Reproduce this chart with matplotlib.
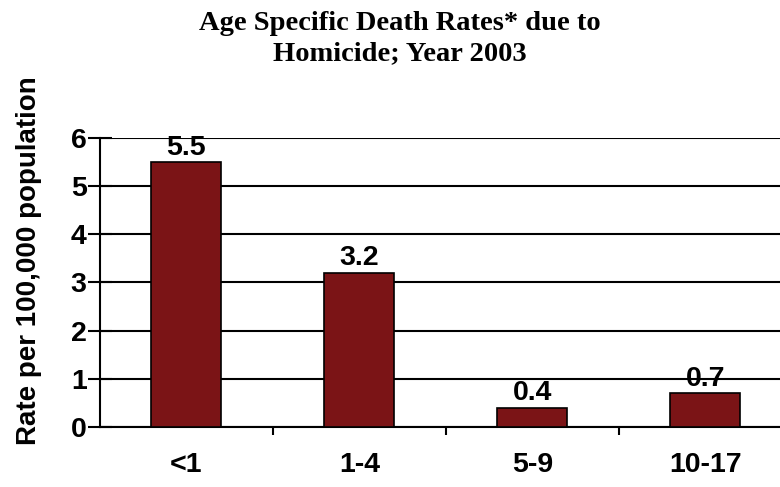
import matplotlib
matplotlib.use("Agg")
import matplotlib.pyplot as plt
from matplotlib.ticker import FixedLocator

# data
age_groups = ["<1", "1-4", "5-9", "10-17"]
rates = [5.5, 3.2, 0.4, 0.7]
title = "Age Specific Death Rates* due to\nHomicide; Year 2003"
ylabel = "Rate per 100,000 population"

fig = plt.figure(figsize=(7.8, 4.87), dpi=100)
# axes runs past the right edge, as in the original cropped slide
ax = fig.add_axes([0.128, 0.123, 0.887, 0.594])

x = range(len(age_groups))
bars = ax.bar(x, rates, width=0.405, color="#7B1416", edgecolor="black",
              linewidth=1.2, zorder=3)

ax.set_xlim(-0.5, len(age_groups) - 0.5)
ax.set_ylim(0, 6)
ax.set_yticks(range(0, 7))
ax.yaxis.grid(True, color="black", linewidth=1.5, zorder=0)
ax.set_axisbelow(True)

for s in ["top", "right"]:
    ax.spines[s].set_visible(False)
ax.spines["left"].set_linewidth(1.5)
ax.spines["bottom"].set_linewidth(1.5)

# category labels at centres, tick marks between categories
ax.set_xticks(list(x))
ax.set_xticklabels(age_groups, fontfamily="Liberation Sans", fontweight="bold",
                   fontsize=20.5)
ax.tick_params(axis="x", which="major", length=0, pad=18)
ax.xaxis.set_minor_locator(FixedLocator([0.5, 1.5, 2.5]))
ax.tick_params(axis="x", which="minor", length=6, width=1.5, direction="out")

ax.tick_params(axis="y", length=17, width=1.5, direction="inout", pad=1)
for lab in ax.get_yticklabels():
    lab.set_fontfamily("Liberation Sans")
    lab.set_fontweight("bold")
    lab.set_fontsize(20.5)

ax.set_ylabel(ylabel, fontfamily="Liberation Sans", fontweight="bold",
              fontsize=20, va="center")
ax.yaxis.set_label_coords(-0.102, 0.575)

for b, v in zip(bars, rates):
    ax.annotate(f"{v}", (b.get_x() + b.get_width() / 2, v),
                xytext=(0, 1), textcoords="offset points",
                ha="center", va="bottom", fontfamily="Liberation Sans",
                fontweight="bold", fontsize=20.5, zorder=4)

fig.text(0.513, 0.978, title, ha="center", va="top",
         fontfamily="Liberation Serif", fontweight="bold", fontsize=20.5,
         linespacing=1.3)

fig.savefig("out.png", dpi=100)
